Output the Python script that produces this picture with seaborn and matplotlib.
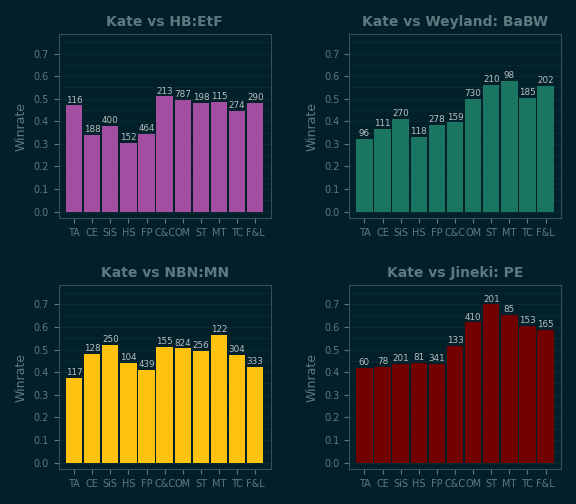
import matplotlib
matplotlib.use("Agg")
import matplotlib.pyplot as plt
import seaborn as sns
import pandas as pd

cats = ["TA","CE","SiS","HS","FP","C&C","OM","ST","MT","TC","F&L"]
titles = ["Kate vs HB:EtF","Kate vs Weyland: BaBW","Kate vs NBN:MN","Kate vs Jineki: PE"]
colors = ["#a34ea0","#1a7561","#ffc20e","#720000"]
hb = [0.47,0.34,0.38,0.305,0.345,0.51,0.495,0.48,0.485,0.445,0.48]
hb_n = [116,188,400,152,464,213,787,198,115,274,290]
wey = [0.32,0.365,0.41,0.33,0.385,0.395,0.50,0.56,0.58,0.505,0.555]
wey_n = [96,111,270,118,278,159,730,210,98,185,202]
nbn = [0.375,0.48,0.52,0.44,0.41,0.51,0.505,0.495,0.565,0.475,0.425]
nbn_n = [117,128,250,104,439,155,824,256,122,304,333]
jin = [0.42,0.425,0.435,0.44,0.435,0.515,0.62,0.70,0.655,0.605,0.585]
jin_n = [60,78,201,81,341,133,410,201,85,153,165]
vals = [hb,wey,nbn,jin]
counts = [hb_n,wey_n,nbn_n,jin_n]

bg = "#022029"
fg = "#5d7a80"
plt.rcParams.update({"figure.facecolor": bg, "axes.facecolor": bg})
fig, axes = plt.subplots(2, 2, figsize=(5.76, 5.04), dpi=100)
for ax, t, c, v, n in zip(axes.flat, titles, colors, vals, counts):
    df = pd.DataFrame({"cat": cats, "w": v})
    sns.barplot(data=df, x="cat", y="w", color=c, saturation=1, ax=ax, width=0.9, zorder=3)
    for i, (val, cnt) in enumerate(zip(v, n)):
        ax.text(i, val + 0.004, str(cnt), ha="center", va="bottom", color="#b8c0c2", fontsize=6.3, zorder=4)
    ax.set_xlim(-0.85, 10.85)
    ax.set_ylim(-0.03, 0.785)
    ax.set_yticks([0, 0.1, 0.2, 0.3, 0.4, 0.5, 0.6, 0.7])
    ax.set_yticks([0.05, 0.15, 0.25, 0.35, 0.45, 0.55, 0.65, 0.75], minor=True)
    ax.grid(axis="y", which="both", color="#082a32", lw=0.8, zorder=0)
    ax.set_title(t, color=fg, fontsize=10, fontweight="bold")
    ax.set_xlabel("")
    ax.set_ylabel("Winrate", color=fg, fontsize=9)
    ax.tick_params(colors=fg, labelsize=7)
    ax.tick_params(axis="y", which="minor", length=0)
    for s in ax.spines.values():
        s.set_color("#34525a")
fig.tight_layout(h_pad=2.0, w_pad=2.5)
fig.savefig("out.png", facecolor=bg)
